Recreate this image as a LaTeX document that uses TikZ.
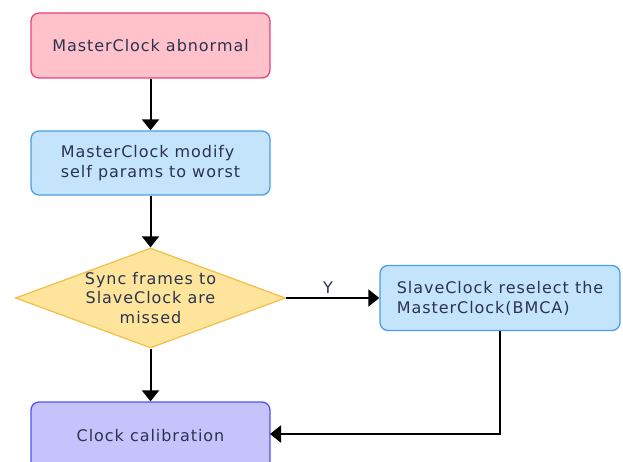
\documentclass[tikz,border=0pt]{standalone}
\usepackage{fontspec}
\setmainfont{DejaVu Sans}[LetterSpace=6]
\usetikzlibrary{arrows.meta,shapes.geometric}
\definecolor{txt}{HTML}{2A3450}
\definecolor{pinkF}{HTML}{FFC2CA}
\definecolor{pinkD}{HTML}{E6457C}
\definecolor{blueF}{HTML}{C4E4FC}
\definecolor{blueD}{HTML}{4A9DEA}
\definecolor{yelF}{HTML}{FFE59C}
\definecolor{yelD}{HTML}{F2C14F}
\definecolor{purF}{HTML}{C6C3FC}
\definecolor{purD}{HTML}{5352EE}
\tikzset{
  box/.style={draw, rounded corners=8pt, line width=1.3pt, minimum width=239pt, inner sep=0pt, text=txt, font=\fontsize{16}{20}\selectfont},
  dec/.style={draw=yelD, fill=yelF, diamond, line width=1.3pt, minimum width=270pt, minimum height=100pt, inner sep=0pt},
  lbl/.style={text=txt, font=\fontsize{16}{19.5}\selectfont, align=center},
  arr/.style={-{Triangle[length=11pt,width=17pt]}, line width=2pt, black}
}
\begin{document}
\begin{tikzpicture}[x=1pt,y=-1pt]
\useasboundingbox (0,0) rectangle (623,462);
\node[box, draw=pinkD, fill=pinkF, minimum height=65pt] (b1) at (150.5,45.5) {MasterClock abnormal};
\node[box, draw=blueD, fill=blueF, minimum height=64pt, align=left] (b2) at (150.5,163) {MasterClock modify\\self params to worst};
\node[dec] (d) at (150.5,298) {};
\node[lbl] (dt) at (d.center) {Sync frames to\\SlaveClock are\\missed};
\node[box, draw=blueD, fill=blueF, minimum width=240pt, minimum height=65pt, align=left] (b3) at (500,298) {SlaveClock reselect the\\MasterClock(BMCA)};
\node[box, draw=purD, fill=purF, minimum height=68pt] (b4) at (150.5,436) {Clock calibration};
\coordinate (in4) at (270,434);
\draw[arr] (b1) -- (b2);
\draw[arr] (b2) -- (d.north);
\draw[arr] (d.east) -- node[lbl, above, pos=0.45] (y) {Y} (b3.west);
\draw[arr] (d.south) -- (b4.north);
\draw[arr] (b3.south) |- (in4);
\end{tikzpicture}
\end{document}
